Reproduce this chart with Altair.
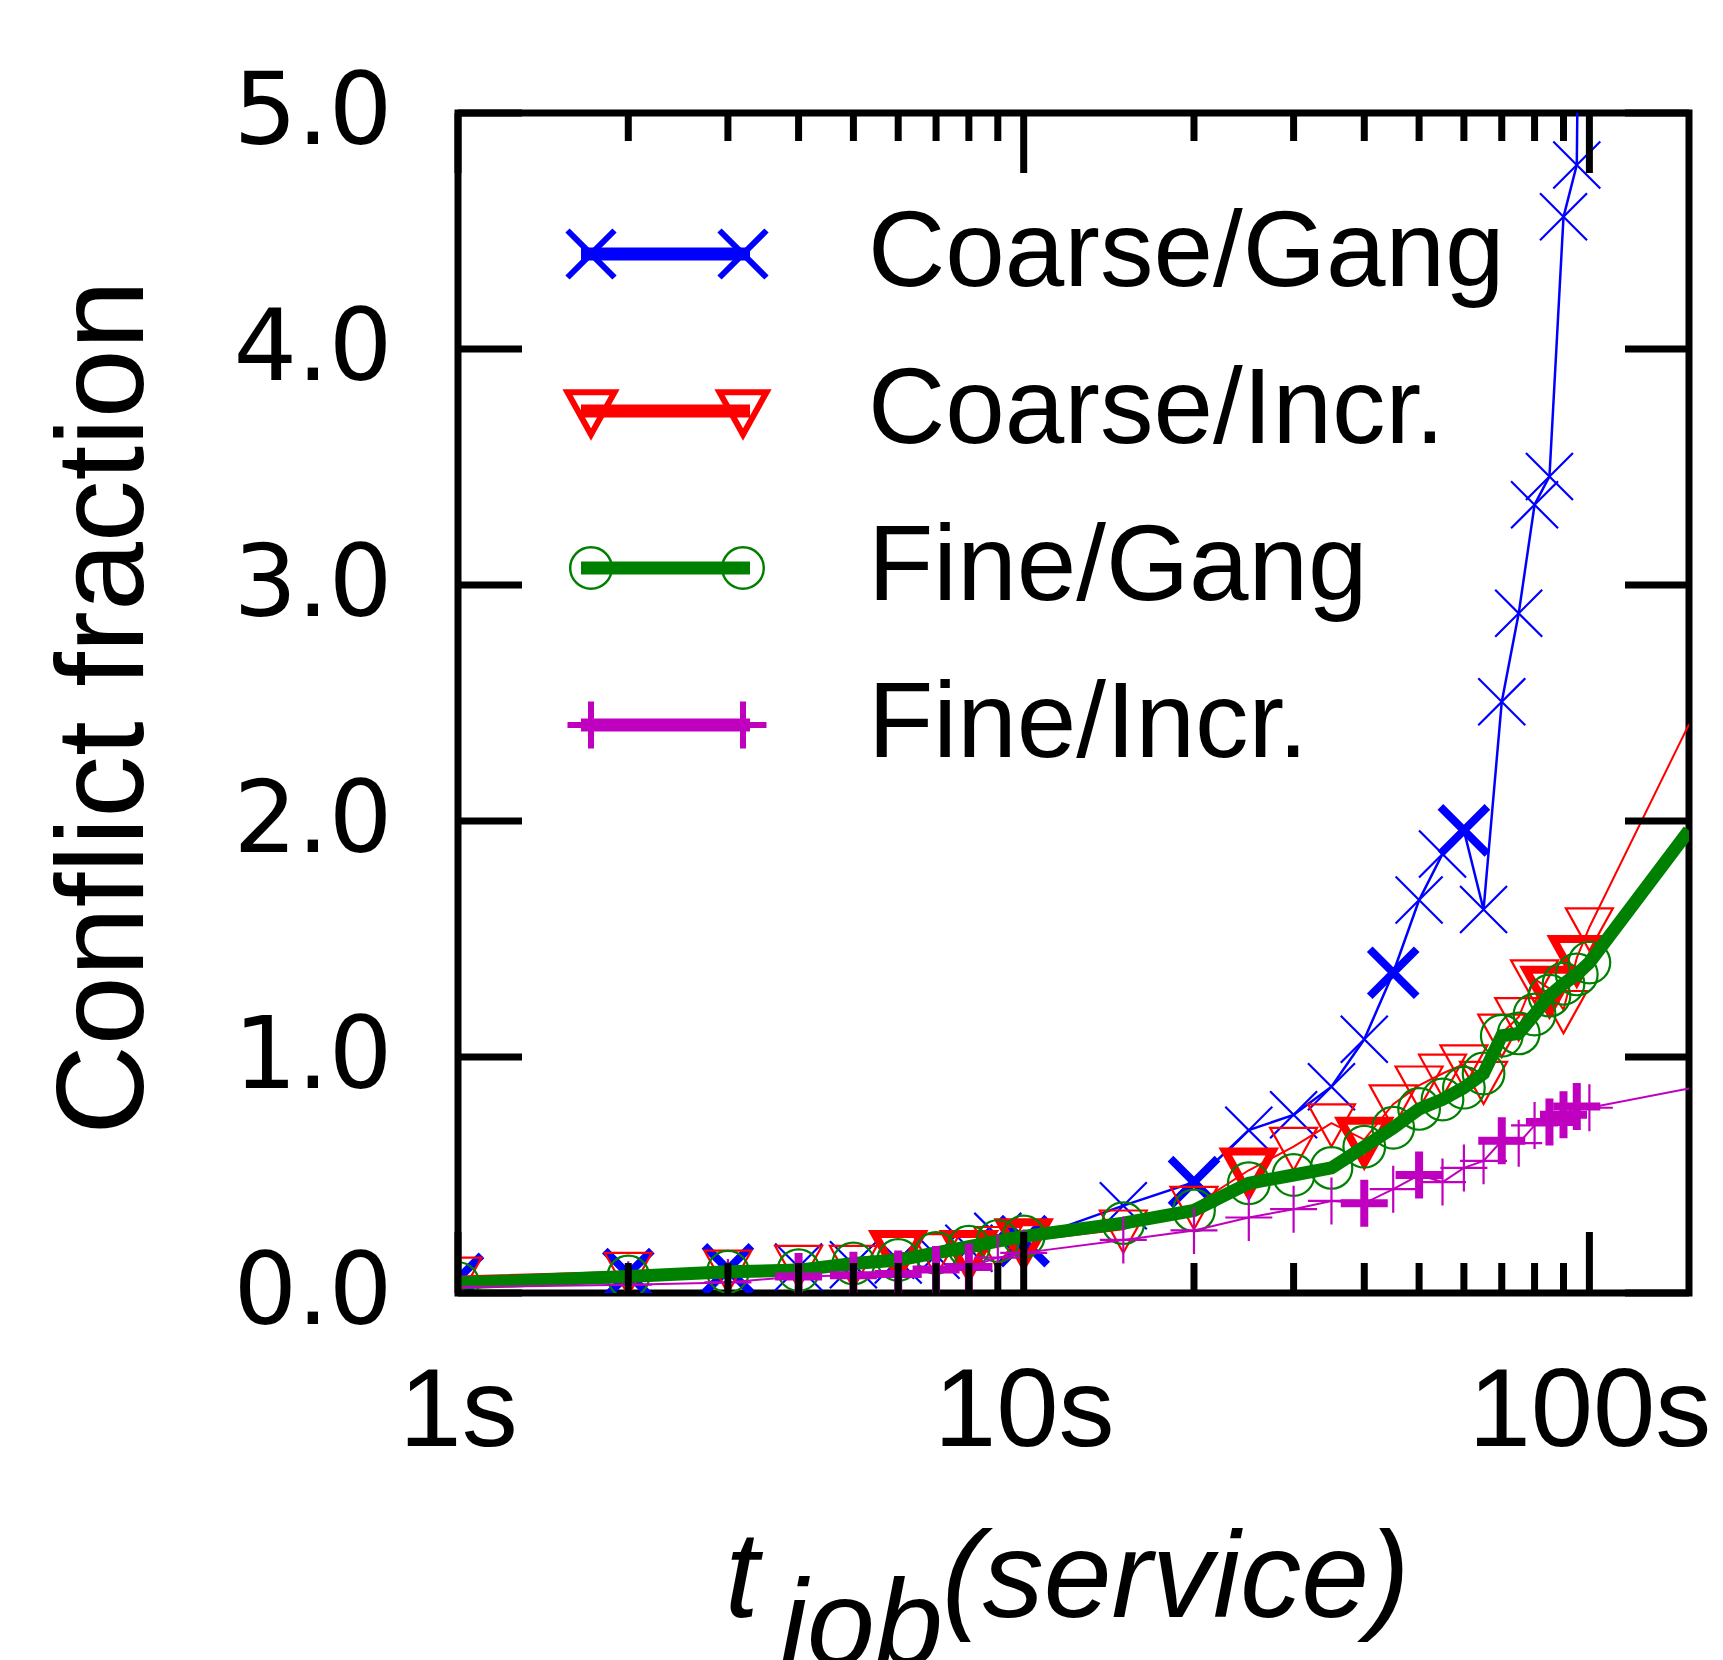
import altair as alt
import pandas as pd

# ---------------- data ----------------
t_job = [1, 2, 3, 4, 5, 6, 7, 8, 9, 10, 15, 20, 25, 30, 35, 40, 45, 50,
         55, 60, 65, 70, 75, 80, 85, 90, 95, 100]
t_edge = 150  # lines run on to the right border

coarse_gang = [0.06, 0.08, 0.10, 0.11, 0.12, 0.14, 0.16, 0.19, 0.24, 0.22,
               0.37, 0.47, 0.69, 0.755, 0.874, 1.075, 1.357, 1.665, 1.86, 1.96,
               1.625, 2.505, 2.88, 3.34, 3.46, 4.56, 4.78, 10.0]
coarse_incr = [0.07, 0.09, 0.10, 0.12, 0.12, 0.17, 0.17, 0.17, 0.20, 0.22,
               0.27, 0.37, 0.52, 0.62, 0.72, 0.65, 0.80, 0.88, 0.93, 0.97,
               0.90, 1.10, 1.17, 1.33, 1.29, 1.20, 1.42, 1.55]
fine_gang = [0.042, 0.07, 0.09, 0.097, 0.125, 0.14, 0.17, 0.196, 0.22, 0.24,
             0.296, 0.35, 0.465, 0.50, 0.53, 0.62, 0.70, 0.78, 0.82, 0.87,
             0.93, 1.09, 1.10, 1.18, 1.26, 1.31, 1.35, 1.40]
fine_incr = [0.025, 0.035, 0.045, 0.07, 0.075, 0.08, 0.10, 0.11, 0.15, 0.17,
             0.225, 0.265, 0.32, 0.355, 0.39, 0.38, 0.44, 0.50, 0.47, 0.53,
             0.56, 0.645, 0.635, 0.71, 0.725, 0.755, 0.79, 0.785]
edge_values = [None, 2.41, 1.96, 0.867]

bold_coarse_gang = [1, 2, 3, 10, 20, 45, 60]
bold_coarse_incr = [6, 8, 10, 25, 40, 85, 95]
bold_fine_gang = []
bold_fine_incr = [4, 5, 6, 7, 8, 40, 50, 70, 85, 90, 95]

labels = ["Coarse/Gang", "Coarse/Incr.", "Fine/Gang", "Fine/Incr."]
colors = ["#0000ff", "#ff0000", "#008000", "#bf00bf"]
x_ticks_major = [1, 10, 100]
x_ticks_minor = [2, 3, 4, 5, 6, 7, 8, 9, 20, 30, 40, 50, 60, 70, 80, 90]
y_ticks = [0, 1, 2, 3, 4, 5]

# ---------------- styling ----------------
W, H = 1231, 1180
X_PATH = "M-1,-1L1,1M-1,1L1,-1"
PLUS_PATH = "M-1,0L1,0M0,-1L0,1"
TRI_PATH = "M-1,-0.8L1,-0.8L0,1Z"
shapes = [X_PATH, TRI_PATH, "circle", PLUS_PATH]
sizes = [2209, 2209, 1735, 2209]
line_widths = [2.5, 2.0, 13, 2.0]
legend_marker_w = [6, 6, 2.5, 6]
series_values = [coarse_gang, coarse_incr, fine_gang, fine_incr]
series_bold = [bold_coarse_gang, bold_coarse_incr, bold_fine_gang, bold_fine_incr]

FONT = "Liberation Sans"

xscale = alt.Scale(type="log", domain=[1, 150], nice=False)
yscale = alt.Scale(domain=[0, 5], nice=False, zero=False)

x_axis = alt.Axis(values=x_ticks_major, labelExpr="datum.value + 's'",
                  labelFont=FONT, labelFontSize=112, labelColor="black",
                  labelBaseline="alphabetic", labelAlign="center",
                  labelPadding=152, ticks=False, tickSize=0, domain=False,
                  grid=False, labelFlush=False, labelOverlap=False,
                  labelBound=False, labelLimit=0, title=None)
y_axis = alt.Axis(values=y_ticks, format=".1f", labelFont="DejaVu Sans",
                  labelFontSize=100, labelColor="black", labelPadding=66,
                  labelBaseline="middle", ticks=False, tickSize=0,
                  domain=False, grid=False, labelFlush=False, labelLimit=0,
                  labelOverlap=False, title="Conflict fraction",
                  titleFont=FONT, titleFontSize=124, titleFontWeight="normal",
                  titleColor="black", titleAngle=270, titleX=-316, titleY=594,
                  titleBaseline="alphabetic", titleAlign="center",
                  titleLimit=0)

X = alt.X("t:Q", scale=xscale, axis=x_axis)
Y = alt.Y("v:Q", scale=yscale, axis=y_axis)

layers = []

# ---------------- series ----------------
for i in range(4):
    df = pd.DataFrame({"t": t_job, "v": series_values[i]})
    df["bold"] = df["t"].isin(series_bold[i])
    line_df = df[["t", "v"]]
    if edge_values[i] is not None:
        line_df = pd.concat([line_df, pd.DataFrame({"t": [t_edge], "v": [edge_values[i]]})],
                            ignore_index=True)
    layers.append(alt.Chart(line_df).mark_line(
        color=colors[i], strokeWidth=line_widths[i], clip=True,
        strokeJoin="miter").encode(x=X, y=Y))
    thin = df[~df["bold"]][["t", "v"]]
    layers.append(alt.Chart(thin).mark_point(
        shape=shapes[i], filled=False, color=colors[i], strokeWidth=2.2,
        size=sizes[i], opacity=1, clip=True).encode(x=X, y=Y))
    bold = df[df["bold"]][["t", "v"]]
    if len(bold):
        layers.append(alt.Chart(bold).mark_point(
            shape=shapes[i], filled=False, color=colors[i], strokeWidth=8,
            size=sizes[i], opacity=1, clip=True).encode(x=X, y=Y))

# ---------------- inward ticks (mirrored) ----------------
maj = pd.DataFrame({"t": x_ticks_major})
mnr = pd.DataFrame({"t": x_ticks_minor})
yt = pd.DataFrame({"v": y_ticks})
TW = 7
layers += [
    alt.Chart(maj).mark_rule(color="black", strokeWidth=TW).encode(x=X, y=alt.value(H), y2=alt.value(H - 61)),
    alt.Chart(maj).mark_rule(color="black", strokeWidth=TW).encode(x=X, y=alt.value(0), y2=alt.value(60)),
    alt.Chart(mnr).mark_rule(color="black", strokeWidth=TW).encode(x=X, y=alt.value(H), y2=alt.value(H - 30)),
    alt.Chart(mnr).mark_rule(color="black", strokeWidth=TW).encode(x=X, y=alt.value(0), y2=alt.value(28)),
    alt.Chart(yt).mark_rule(color="black", strokeWidth=TW).encode(y=Y, x=alt.value(0), x2=alt.value(64)),
    alt.Chart(yt).mark_rule(color="black", strokeWidth=TW).encode(y=Y, x=alt.value(W - 64), x2=alt.value(W)),
]

# ---------------- legend (inside, top-left) ----------------
legend_rows = [141, 298, 455, 612]
for i in range(4):
    d = alt.Data(values=[{"label": labels[i]}])
    ly = legend_rows[i]
    layers.append(alt.Chart(d).mark_rule(color=colors[i], strokeWidth=13).encode(
        x=alt.value(123), x2=alt.value(292), y=alt.value(ly)))
    for lx in (133, 285):
        layers.append(alt.Chart(d).mark_point(
            shape=shapes[i], filled=False, color=colors[i],
            strokeWidth=legend_marker_w[i], size=sizes[i], opacity=1).encode(
            x=alt.value(lx), y=alt.value(ly)))
    layers.append(alt.Chart(d).mark_text(
        align="left", baseline="middle", font=FONT, fontSize=107,
        color="black").encode(x=alt.value(410), y=alt.value(ly), text="label:N"))

# ---------------- x-axis title: t_job(service) ----------------
title_parts = [("t", 267, 1504), ("job", 322, 1552), ("(service)", 484, 1504)]
for txt, tx, ty in title_parts:
    layers.append(alt.Chart(alt.Data(values=[{"s": txt}])).mark_text(
        align="left", baseline="alphabetic", font=FONT, fontStyle="italic",
        fontSize=122, color="black").encode(x=alt.value(tx), y=alt.value(ty), text="s:N"))

chart = alt.layer(*layers).properties(
    width=W, height=H,
    autosize=alt.AutoSizeParams(type="none"),
    padding={"left": 458, "top": 113, "right": 34, "bottom": 367},
    background="white",
).configure_view(stroke="black", strokeWidth=7)

chart.save("out.html", embed_options={"renderer": "svg", "actions": False})
